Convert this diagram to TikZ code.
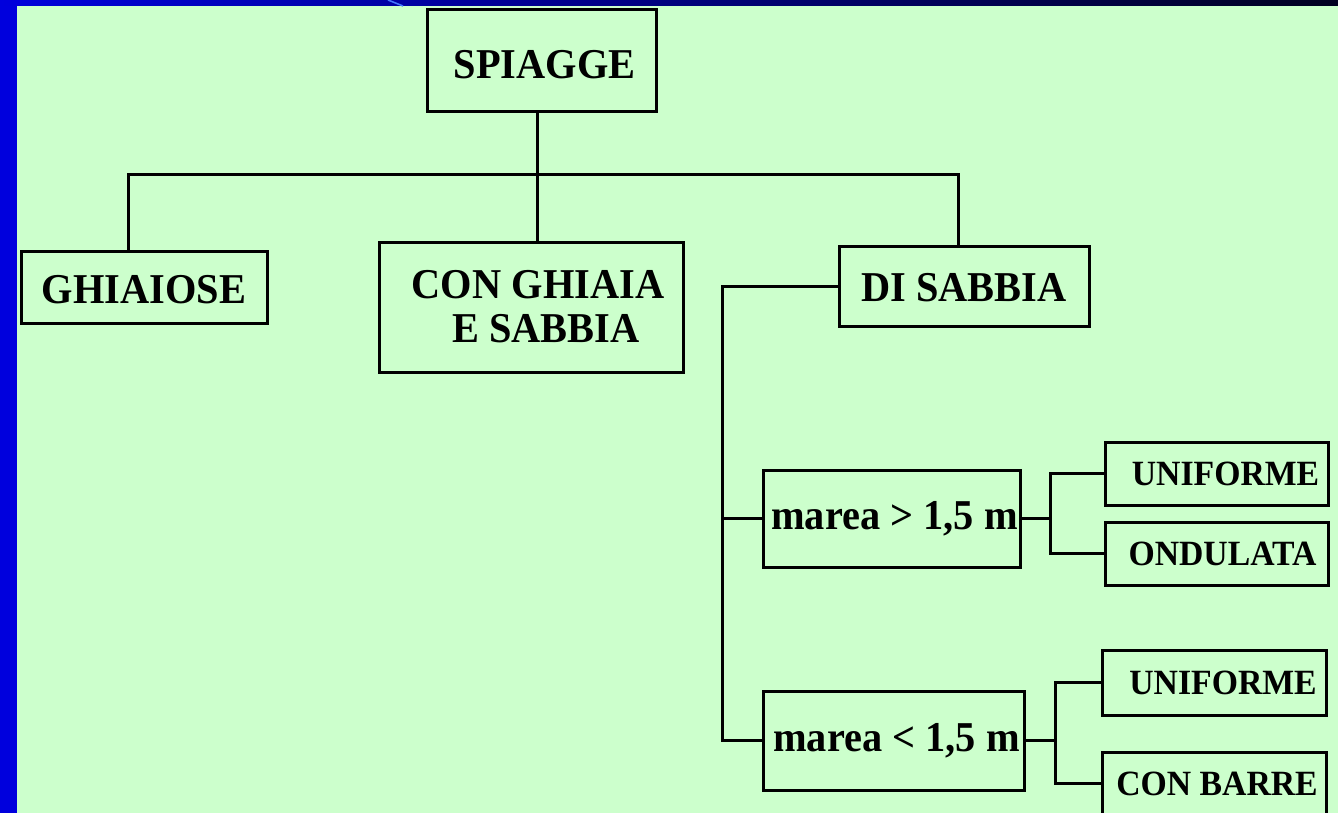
\documentclass[tikz,border=0pt]{standalone}
\usepackage{fontspec}
\setmainfont{Liberation Serif}[FakeStretch=0.95]
\definecolor{bg}{HTML}{CCFFCC}
\definecolor{bluel}{HTML}{0000DD}
\definecolor{bluer}{HTML}{000020}
\definecolor{streak}{HTML}{4477FF}
\newcommand{\lowr}[2]{\raisebox{-#1}[\height][0pt]{#2}}
\begin{document}
\begin{tikzpicture}[x=1pt,y=-1pt,
  box/.style={draw=black, line width=3pt, fill=bg, inner sep=0pt, align=center},
  big/.style={font=\bfseries\fontsize{42.5}{44}\selectfont},
  small/.style={font=\bfseries\fontsize{35.5}{37}\selectfont},
  conn/.style={line width=3pt, line cap=rect}]
\useasboundingbox (0,0) rectangle (1338,813);
% background
\fill[bg] (0,0) rectangle (1338,813);
\fill[bluel] (0,0) rectangle (17,813);
\shade[left color=bluel, right color=bluer] (0,0) rectangle (1338,6);
\draw[streak, line width=1.5pt] (388,0) -- (403,6);
% nodes
\node[box, big, minimum width=229pt, minimum height=102pt] (sp) at (541.5,61) {\lowr{3pt}{\hspace*{6pt}SPIAGGE}};
\node[box, big, minimum width=246pt, minimum height=72pt] (gh) at (144,287) {\lowr{2pt}{GHIAIOSE}};
\node[box, big, minimum width=304pt, minimum height=130pt] (cgs) at (531,307) {\hspace*{14pt}CON GHIAIA\\\hspace*{30pt}E SABBIA};
\node[box, big, minimum width=250pt, minimum height=80pt] (ds) at (964,286) {\lowr{1pt}{DI SABBIA}};
\node[box, big, minimum width=257pt, minimum height=97pt] (mg) at (891.5,518.5) {\hspace*{6pt}marea > 1,5 m};
\node[box, big, minimum width=261pt, minimum height=99pt] (ml) at (893.5,740.5) {\hspace*{6pt}marea < 1,5 m};
\node[box, small, minimum width=223pt, minimum height=63pt] (u1) at (1216.5,473.5) {\hspace*{18pt}UNIFORME};
\node[box, small, minimum width=223pt, minimum height=63pt] (on) at (1216.5,553.5) {\hspace*{12pt}ONDULATA};
\node[box, small, minimum width=224pt, minimum height=65pt] (u2) at (1214,682.5) {\hspace*{18pt}UNIFORME};
\node[box, small, minimum width=224pt, minimum height=63pt] (cb) at (1214,783.5) {\hspace*{6pt}CON BARRE};
% connectors
\coordinate (j0) at (537,175);
\coordinate (jg) at (128,175);
\coordinate (jd) at (958,175);
\coordinate (tr) at (722,286);
\coordinate (b1) at (1050,0);
\coordinate (b2) at (1055,0);
\draw[conn] (j0 |- sp.south) -- (j0);
\draw[conn] (jg) -- (jd);
\draw[conn] (jg) -- (jg |- gh.north);
\draw[conn] (j0) -- (j0 |- cgs.north);
\draw[conn] (jd) -- (jd |- ds.north);
\draw[conn] (ds.west) -- (tr) |- (ml.west);
\draw[conn] (tr |- mg.west) -- (mg.west);
\draw[conn] (mg.east) -- (b1 |- mg.east);
\draw[conn] (u1.west) -| (b1 |- mg.east) |- (on.west);
\draw[conn] (ml.east) -- (b2 |- ml.east);
\draw[conn] (u2.west) -| (b2 |- ml.east) |- (cb.west);
\end{tikzpicture}
\end{document}
